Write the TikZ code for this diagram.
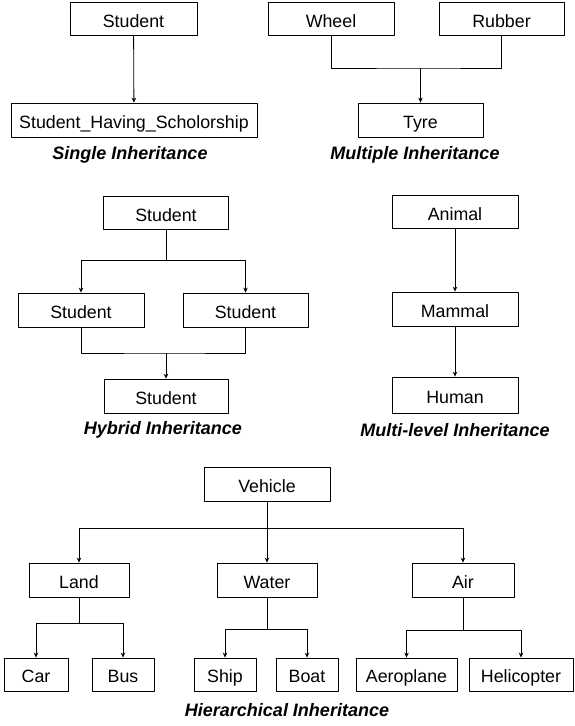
\documentclass[tikz,border=0pt]{standalone}
\usepackage{fontspec}
\setmainfont{Liberation Sans}
\usetikzlibrary{arrows.meta}
\tikzset{
	box/.style={draw, line width=0.8pt, inner sep=0pt, minimum height=33pt, minimum width=#1, text height=19pt, text depth=3pt},
	box/.default=126pt,
	caption/.style={font=\fontsize{18}{20}\selectfont\bfseries\itshape}
}
\begin{document}
\begin{tikzpicture}[x=1pt, y=-1pt, font=\fontsize{17.8}{20}\selectfont, line join=round, >={Stealth[length=5pt,width=4.5pt]}]
	\useasboundingbox (0,0) rectangle (575,726);
	% single
	\node[box=127pt] (stu) at (133.5,19) {Student};
	\node[box=246pt, minimum height=34pt] (shs) at (134,120) {Student\_Having\_Scholorship};
	\node[caption] (single) at (130,155) {Single Inheritance};
	\draw[->, line width=0.8pt] (stu) -- (shs);
	% multiple
	\node[box] (wheel) at (331,19) {Wheel};
	\node[box=125pt] (rubber) at (501.5,19) {Rubber};
	\node[box=125pt, minimum height=34pt] (tyre) at (420.5,120) {Tyre};
	\node[caption] (multiple) at (415,155) {Multiple Inheritance};
	\coordinate (mj) at (420.5,68);
	\draw[line width=0.8pt] (wheel) |- (mj) -| (rubber);
	\draw[->, line width=0.8pt] (mj) -- (tyre);
	% hybrid
	\node[box=125pt] (hs) at (166,213) {Student};
	\node[box, minimum height=34pt] (hl) at (81,310) {Student};
	\node[box=125pt, minimum height=34pt] (hr) at (245.5,310) {Student};
	\node[box=124pt, minimum height=34pt] (hb) at (166,396) {Student};
	\node[caption] (hybrid) at (163,430) {Hybrid Inheritance};
	\coordinate (hj1) at (166,260);
	\coordinate (hj2) at (166,353);
	\draw[line width=0.8pt] (hs) -- (hj1);
	\foreach \n in {hl,hr} \draw[->, line width=0.8pt] (hj1) -| (\n);
	\draw[line width=0.8pt] (hl) |- (hj2) -| (hr);
	\draw[->, line width=0.8pt] (hj2) -- (hb);
	% multi-level
	\node[box] (animal) at (455,212) {Animal};
	\node[box, minimum height=34pt] (mammal) at (455,309) {Mammal};
	\node[box, minimum height=36pt] (human) at (455,395) {Human};
	\node[caption] (multilevel) at (455,430) {Multi-level Inheritance};
	\draw[->, line width=0.8pt] (animal) -- (mammal);
	\draw[->, line width=0.8pt] (mammal) -- (human);
	% hierarchical
	\node[box, minimum height=34pt] (vehicle) at (267,484) {Vehicle};
	\foreach \n/\x/\w/\t in {land/79/100/Land, water/267/100/Water, air/463/102/Air}
		\node[box=\w pt, minimum height=34pt] (\n) at (\x,580) {\t};
	\foreach \n/\x/\w/\t in {car/36/64/Car, bus/123/62/Bus, ship/225/62/Ship, boat/307/62/Boat, aeroplane/406.5/101/Aeroplane, helicopter/521/104/Helicopter}
		\node[box=\w pt] (\n) at (\x,674.5) {\t};
	\node[caption] (hierarchical) at (287,710) {Hierarchical Inheritance};
	\coordinate (vj) at (267,528);
	\coordinate (lj) at (79,623);
	\coordinate (wj) at (267,629);
	\coordinate (aj) at (463,630);
	\draw[line width=0.8pt] (vehicle) -- (vj);
	\foreach \n in {land,water,air} \draw[->, line width=0.8pt] (vj) -| (\n);
	\draw[line width=0.8pt] (land) -- (lj);
	\foreach \n in {car,bus} \draw[->, line width=0.8pt] (lj) -| (\n);
	\draw[line width=0.8pt] (water) -- (wj);
	\foreach \n in {ship,boat} \draw[->, line width=0.8pt] (wj) -| (\n);
	\draw[line width=0.8pt] (air) -- (aj);
	\foreach \n in {aeroplane,helicopter} \draw[->, line width=0.8pt] (aj) -| (\n);
\end{tikzpicture}
\end{document}
